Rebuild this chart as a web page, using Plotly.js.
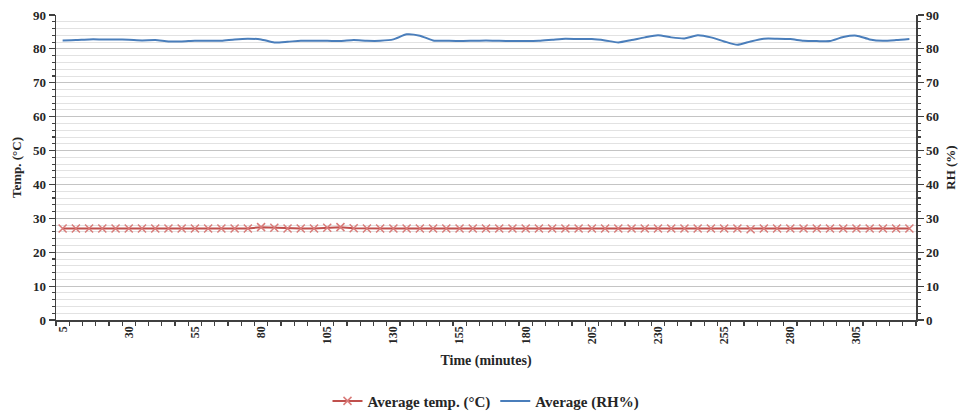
<!DOCTYPE html>
<html>
<head>
<meta charset="utf-8">
<script src="https://cdn.plot.ly/plotly-3.0.1.min.js"></script>
<style>
  html, body { margin: 0; padding: 0; background: #ffffff; }
  #chart { width: 961px; height: 417px; }
</style>
</head>
<body>
<div id="chart"></div>
<script>
// Sampling times (minutes), one reading every 5 minutes
const timeMinutes = [];
for (let t = 5; t <= 325; t += 5) timeMinutes.push(t);

// Average air temperature (°C)
const avgTemp = [
  27.0, 27.0, 27.0, 27.0, 27.0, 27.0, 27.0, 27.0, 27.0, 27.0,
  27.0, 27.0, 27.0, 27.0, 27.0, 27.4, 27.2, 27.0, 27.0, 27.0,
  27.2, 27.4, 27.1, 27.0, 27.0, 27.0, 27.0, 27.0, 27.0, 27.0,
  27.0, 27.0, 27.0, 27.0, 27.0, 27.0, 27.0, 27.0, 27.0, 27.0,
  27.0, 27.0, 27.0, 27.0, 27.0, 27.0, 27.0, 27.0, 27.0, 27.0,
  27.0, 27.0, 26.8, 27.0, 27.0, 27.0, 27.0, 27.0, 27.0, 27.0,
  27.0, 27.0, 27.0, 27.0, 27.0
];

// Average relative humidity (%)
const avgRH = [
  82.5, 82.6, 82.8, 82.8, 82.8, 82.7, 82.5, 82.6, 82.2, 82.2,
  82.4, 82.4, 82.4, 82.8, 83.0, 82.8, 81.9, 82.1, 82.4, 82.4,
  82.4, 82.3, 82.6, 82.4, 82.4, 82.8, 84.3, 83.9, 82.5, 82.4,
  82.3, 82.4, 82.5, 82.4, 82.3, 82.3, 82.4, 82.7, 83.0, 82.9,
  82.9, 82.5, 81.9, 82.6, 83.4, 84.0, 83.4, 83.1, 84.0, 83.4,
  82.2, 81.2, 82.2, 83.0, 83.0, 82.9, 82.4, 82.3, 82.3, 83.5,
  83.9, 82.8, 82.4, 82.6, 82.9
];

// Labelled times on the x axis
const timeLabels = [5, 30, 55, 80, 105, 130, 155, 180, 205, 230, 255, 280, 305];

// Value axis ticks (shared by both sides)
const valueTicks = [0, 10, 20, 30, 40, 50, 60, 70, 80, 90];

const font = { family: '"Liberation Serif", "Times New Roman", serif', color: '#262626' };
const boldFont = (size) => Object.assign({}, font, { size: size, weight: 'bold' });

const traces = [
  {
    x: timeMinutes,
    y: avgTemp,
    name: '<b>Average temp. (°C)</b>',
    type: 'scatter',
    mode: 'lines+markers',
    line: { color: '#C0504D', width: 2 },
    marker: { symbol: 'x-thin', size: 8, color: '#D97C7A', line: { color: '#D97C7A', width: 1.5 } },
    yaxis: 'y'
  },
  {
    x: timeMinutes,
    y: avgRH,
    name: '<b>Average (RH%)</b>',
    type: 'scatter',
    mode: 'lines',
    line: { color: '#4A7EBB', width: 2, shape: 'spline', smoothing: 0.6 },
    yaxis: 'y2'
  }
];

const yCommon = {
  range: [0, 90],
  tickmode: 'array',
  tickvals: valueTicks,
  ticktext: valueTicks.map(v => '<b>' + v + '</b>'),
  tickfont: boldFont(13),
  ticks: 'outside',
  ticklen: 6,
  tickwidth: 1.2,
  tickcolor: '#404040',
  showline: true,
  linecolor: '#404040',
  linewidth: 1.5,
  zeroline: false,
  automargin: false,
  fixedrange: true
};

const layout = {
  width: 961,
  height: 417,
  margin: { l: 56, r: 45, t: 15, b: 97, autoexpand: false },
  paper_bgcolor: '#ffffff',
  plot_bgcolor: '#ffffff',
  font: font,
  showlegend: true,
  legend: {
    orientation: 'h',
    x: 0.5, xanchor: 'center',
    yref: 'container',
    y: 0.038, yanchor: 'middle',
    font: boldFont(15),
    itemwidth: 30,
    tracegroupgap: 0
  },
  xaxis: {
    range: [2.5, 327.5],
    tickmode: 'array',
    tickvals: timeLabels,
    ticktext: timeLabels.map(v => '<b>' + v + '</b>'),
    tickangle: -90,
    tickfont: boldFont(12),
    ticks: '',
    showgrid: false,
    zeroline: false,
    showline: true,
    linecolor: '#404040',
    linewidth: 1.5,
    automargin: false,
    minor: { tick0: 2.5, dtick: 5, ticks: 'outside', ticklen: 4, tickwidth: 1.2, tickcolor: '#404040', showgrid: false },
    title: { text: '<b>Time (minutes)</b>', font: boldFont(14), standoff: 12 },
    fixedrange: true
  },
  yaxis: Object.assign({}, yCommon, {
    side: 'left',
    showgrid: true,
    gridcolor: '#c4c4c4',
    gridwidth: 1,
    minor: { dtick: 2, ticks: 'outside', ticklen: 3, tickwidth: 1.2, tickcolor: '#404040', showgrid: true, gridcolor: '#e2e2e2', gridwidth: 1 },
    title: { text: '<b>Temp. (°C)</b>', font: boldFont(13), standoff: 8 }
  }),
  yaxis2: Object.assign({}, yCommon, {
    side: 'right',
    overlaying: 'y',
    showgrid: false,
    minor: { dtick: 2, ticks: 'outside', ticklen: 3, tickwidth: 1.2, tickcolor: '#404040', showgrid: false },
    title: { text: '<b>RH (%)</b>', font: boldFont(13), standoff: 8 }
  })
};

Plotly.newPlot('chart', traces, layout, { displayModeBar: false, staticPlot: true });
</script>
</body>
</html>
